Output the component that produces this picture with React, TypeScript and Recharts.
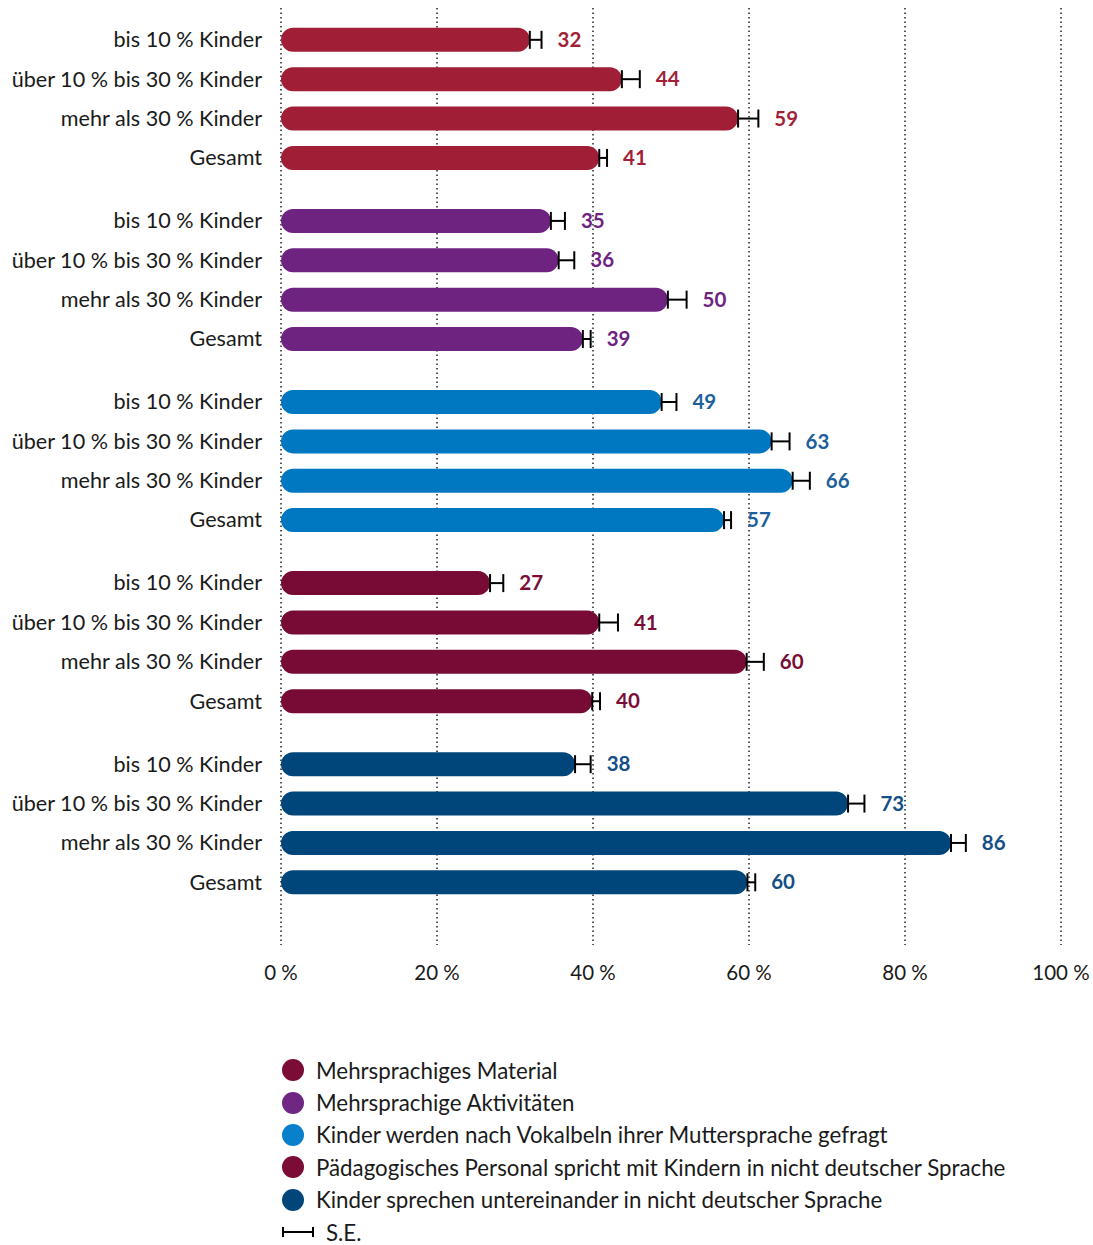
import { BarChart, Bar, XAxis, YAxis, CartesianGrid, Cell, ErrorBar, LabelList } from 'recharts';

const categories = ['bis 10 % Kinder', 'über 10 % bis 30 % Kinder', 'mehr als 30 % Kinder', 'Gesamt'];

const seriesNames = [
  'Mehrsprachiges Material',
  'Mehrsprachige Aktivitäten',
  'Kinder werden nach Vokalbeln ihrer Muttersprache gefragt',
  'Pädagogisches Personal spricht mit Kindern in nicht deutscher Sprache',
  'Kinder sprechen untereinander in nicht deutscher Sprache',
];

const material = [31.9, 43.7, 58.6, 40.8];
const aktivitaeten = [34.6, 35.6, 49.6, 38.7];
const vokabeln = [48.8, 62.9, 65.6, 56.8];
const personal = [26.8, 40.8, 59.7, 39.9];
const untereinander = [37.7, 72.7, 85.9, 59.8];

const materialSE = [1.5, 2.3, 2.6, 1.0];
const aktivitaetenSE = [1.8, 2.0, 2.4, 1.0];
const vokabelnSE = [1.9, 2.3, 2.2, 0.9];
const personalSE = [1.7, 2.4, 2.2, 1.0];
const untereinanderSE = [2.0, 2.1, 1.9, 1.0];

const xTicks = [0, 20, 40, 60, 80, 100];

const barColors = ['#a01f37', '#6f2380', '#0077c1', '#780b36', '#00467a'];
const labelColors = ['#a21f37', '#6e2380', '#1d5f9c', '#7a0c36', '#144f86'];
const legendColors = ['#7a0c36', '#702683', '#0a7fcb', '#7a0c36', '#00467a'];

const GROUP_STEP = 4.6;
const allValues = [material, aktivitaeten, vokabeln, personal, untereinander];
const allSE = [materialSE, aktivitaetenSE, vokabelnSE, personalSE, untereinanderSE];

const rows = allValues.flatMap((vals, g) =>
  vals.map((v, i) => ({
    pos: g * GROUP_STEP + i,
    group: g,
    label: categories[i],
    value: v,
    se: allSE[g][i],
    err: [0, allSE[g][i]],
  }))
);

const labelByPos = new Map(rows.map((r) => [r.pos, r.label]));
const font = 'Lato, "Noto Sans", sans-serif';

const ValueLabel = (props: any) => {
  const { x, y, width, height, value, index } = props;
  const row = rows[index];
  const perUnit = width / row.value;
  const tx = x + width + row.se * perUnit + 16;
  return (
    <text x={tx} y={y + height / 2} dy="0.35em" fontSize={20.5} fontWeight={700} fill={labelColors[row.group]} fontFamily={font}>
      {Math.round(Number(value))}
    </text>
  );
};

export default function App() {
  return (
    <div style={{ position: 'absolute', left: 0, top: 0, width: 1093, height: 1245, background: '#fff', fontFamily: font }}>
      <BarChart
        width={1093}
        height={1000}
        data={rows}
        layout="vertical"
        margin={{ top: 8, right: 32, left: 0, bottom: 15 }}
      >
        <CartesianGrid horizontal={false} stroke="#222" strokeDasharray="1.5 3" strokeWidth={1.5} />
        <XAxis
          type="number"
          dataKey="value"
          domain={[0, 100]}
          ticks={xTicks}
          tickFormatter={(v) => `${v} %`}
          axisLine={false}
          tickLine={false}
          tickSize={0}
          tickMargin={20}
          height={40}
          tick={{ fontSize: 20.5, fill: '#1a1a1a', fontFamily: font }}
        />
        <YAxis
          type="number"
          dataKey="pos"
          domain={[-0.8, 23]}
          ticks={rows.map((r) => r.pos)}
          interval={0}
          width={281}
          axisLine={false}
          tickLine={false}
          tickSize={0}
          tickMargin={19}
          tickFormatter={(v) => labelByPos.get(v) ?? ''}
          tick={{ fontSize: 21.6, fill: '#1a1a1a', fontFamily: font }}
        />
        <Bar dataKey="value" barSize={24} radius={12} isAnimationActive={false}>
          {rows.map((r, i) => (
            <Cell key={i} fill={barColors[r.group]} />
          ))}
          <ErrorBar dataKey="err" direction="x" width={9} stroke="#000" strokeWidth={2} />
          <LabelList dataKey="value" content={ValueLabel} />
        </Bar>
      </BarChart>
      <div style={{ position: 'absolute', left: 282, top: 1054, color: '#1a1a1a', fontSize: 22.3 }}>
        {seriesNames.map((name, i) => (
          <div key={name} style={{ display: 'flex', alignItems: 'center', height: 32.4 }}>
            <span style={{ width: 22, height: 22, borderRadius: 11, background: legendColors[i], marginRight: 12 }} />
            <span>{name}</span>
          </div>
        ))}
        <div style={{ display: 'flex', alignItems: 'center', height: 32.4 }}>
          <svg width={32} height={10} style={{ marginRight: 12 }}>
            <line x1={1} y1={5} x2={31} y2={5} stroke="#000" strokeWidth={2} />
            <line x1={1} y1={0} x2={1} y2={10} stroke="#000" strokeWidth={2} />
            <line x1={31} y1={0} x2={31} y2={10} stroke="#000" strokeWidth={2} />
          </svg>
          <span>S.E.</span>
        </div>
      </div>
    </div>
  );
}
